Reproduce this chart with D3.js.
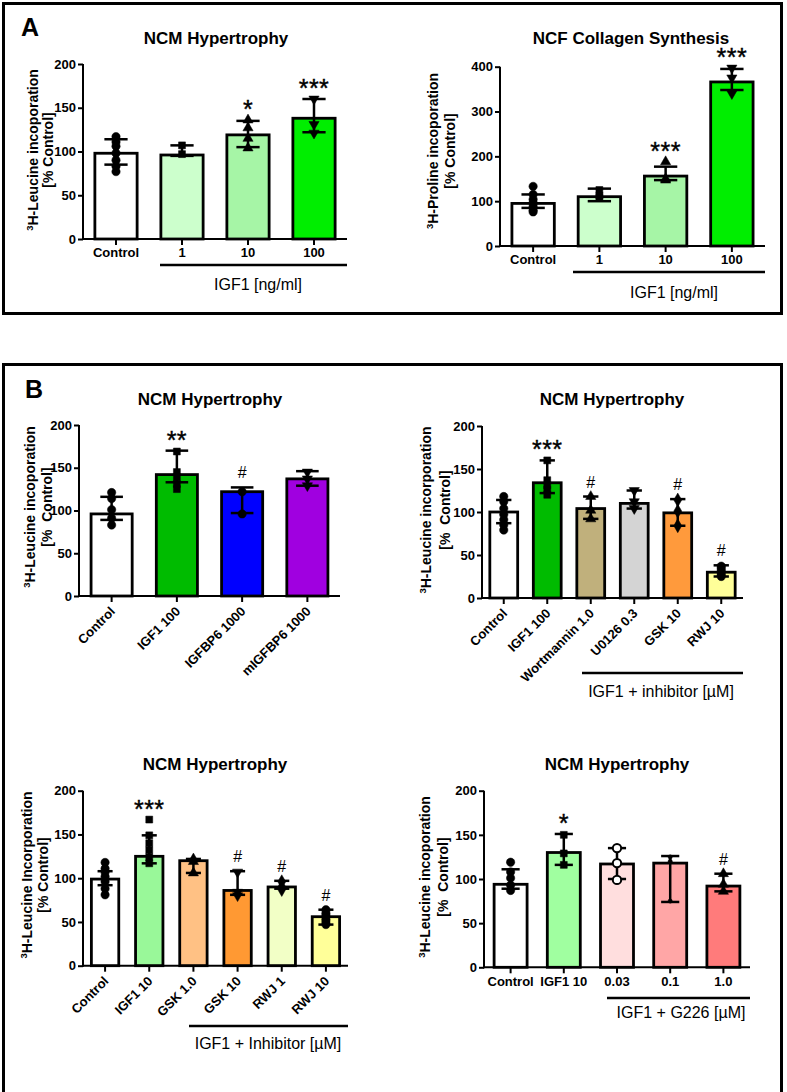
<!DOCTYPE html>
<html><head><meta charset="utf-8">
<script src="https://cdn.jsdelivr.net/npm/d3@7"></script>
<style>body{margin:0;background:#fff}svg{display:block;font-family:"Liberation Sans",Arial,sans-serif}</style>
</head><body>
<svg id="fig" width="787" height="1092"></svg>
<script>
// ---------- DATA ----------
// Panel A left: NCM Hypertrophy
const a1Categories = ["Control","1","10","100"];
const a1Means   = [98, 96, 119, 138];
const a1ErrHigh = [114, 107, 135, 160];
const a1ErrLow  = [85, 95, 105, 122];
const a1Points  = [[117,111,106,98,90,83,77],[107,97],[136,127,115,104],[160,131,121]];
const a1Sig     = ["","","*","***"];
const a1Colors  = ["#ffffff","#ccffcc","#a6f5a6","#00ee00"];
const a1Shapes  = ["circle","square","triangle","invtri"];

// Panel A right: NCF Collagen Synthesis
const a2Categories = ["Control","1","10","100"];
const a2Means   = [95, 110, 156, 366];
const a2ErrHigh = [115, 128, 177, 395];
const a2ErrLow  = [85, 100, 147, 348];
const a2Points  = [[133,115,104,96,88,80,76],[125,112,108],[188,150,147],[397,375,340]];
const a2Sig     = ["","","***","***"];
const a2Colors  = ["#ffffff","#ccffcc","#a6f5a6","#00ee00"];
const a2Shapes  = ["circle","square","triangle","invtri"];

// Panel B1
const b1Categories = ["Control","IGF1 100","IGFBP6 1000","mIGFBP6 1000"];
const b1Means   = [96, 142, 122, 137];
const b1ErrHigh = [116, 170, 127, 146];
const b1ErrLow  = [89, 133, 97, 129];
const b1Points  = [[121,114,101,91,83],[169,145,139,131,125],[122,96],[145,137,129]];
const b1Sig     = ["","**","#",""];
const b1Colors  = ["#ffffff","#00bb00","#0000ff","#a000e0"];
const b1Shapes  = ["circle","square","circle","invtri"];

// Panel B2
const b2Categories = ["Control","IGF1 100","Wortmannin 1.0","U0126 0.3","GSK 10","RWJ 10"];
const b2Means   = [100, 134, 104, 110, 99, 30];
const b2ErrHigh = [114, 160, 118, 125, 115, 38];
const b2ErrLow  = [87, 122, 92, 104, 84, 25];
const b2Points  = [[118,112,104,97,91,85,79],[160,137,131,126,120],[118,102,92],[125,112,104],[114,101,84],[37,34,31,28,25]];
const b2Sig     = ["","***","#","","#","#"];
const b2Colors  = ["#ffffff","#00bb00","#c0b07c","#d4d4d4","#ff9a3c","#ffff99"];
const b2Shapes  = ["circle","square","triangle","invtri","diamond","circle"];

// Panel B3
const b3Categories = ["Control","IGF1 10","GSK 1.0","GSK 10","RWJ 1","RWJ 10"];
const b3Means   = [99, 125, 120, 86, 90, 56];
const b3ErrHigh = [108, 149, 122, 108, 97, 64];
const b3ErrLow  = [92, 117, 106, 81, 88, 47];
const b3Points  = [[118,111,107,102,96,88,81],[167,149,140,132,124,117],[122,119,106],[107,84,80],[96,90,87],[64,60,57,53,50,47]];
const b3Sig     = ["","***","","#","#","#"];
const b3Colors  = ["#ffffff","#99f899","#ffc184","#ff9933","#f2ffc6","#ffff99"];
const b3Shapes  = ["circle","square","triangle","invtri","diamond","circle"];

// Panel B4
const b4Categories = ["Control","IGF1 10","0.03","0.1","1.0"];
const b4Means   = [94, 130, 117, 118, 92];
const b4ErrHigh = [111, 151, 135, 126, 106];
const b4ErrLow  = [89, 116, 100, 74, 86];
const b4Points  = [[119,108,101,93,87],[150,129,116],[135,118,99],[125,120,75],[106,94,86]];
const b4Sig     = ["","*","","","#"];
const b4Colors  = ["#ffffff","#a0ffa0","#ffdede","#ffa6a6","#ff7b7b"];
const b4Shapes  = ["circle","square","open","small","triangle"];

const ticks200 = [0,50,100,150,200];
const ticks400 = [0,100,200,300,400];

// ---------- DRAW ----------
const svg = d3.select("#fig");
const FONT = '"Liberation Sans",Arial,sans-serif';

// frames
svg.append("rect").attr("x",3.5).attr("y",3.5).attr("width",778).attr("height",310)
  .attr("fill","none").attr("stroke","#000").attr("stroke-width",3);
svg.append("rect").attr("x",3.5).attr("y",364.5).attr("width",778).attr("height",800)
  .attr("fill","none").attr("stroke","#000").attr("stroke-width",3);
svg.append("text").attr("x",21).attr("y",36).attr("font-size",25).attr("font-weight","bold").text("A");
svg.append("text").attr("x",25).attr("y",398).attr("font-size",25).attr("font-weight","bold").text("B");

function symbolPath(shape){
  const map = {circle:d3.symbolCircle, square:d3.symbolSquare, triangle:d3.symbolTriangle,
               invtri:d3.symbolTriangle, diamond:d3.symbolDiamond, open:d3.symbolCircle, small:d3.symbolCircle};
  const size = shape==="small" ? 14 : (shape==="square" ? 48 : (shape==="triangle"||shape==="invtri" ? 45 : 55));
  return d3.symbol().type(map[shape]).size(size)();
}

function panel(c){
  const g = svg.append("g");
  const x = d3.scaleBand().domain(c.categories).range([c.x0, c.x1]).paddingInner(c.pad).paddingOuter(c.pad/2);
  const y = d3.scaleLinear().domain([0, c.yMax]).range([c.yBot, c.yTop]);
  const data = c.categories.map((k,i)=>({k, mean:c.means[i], hi:c.errHigh[i], lo:c.errLow[i],
      pts:c.points[i], color:c.colors[i], shape:c.shapes[i], sig:c.sig[i]}));
  const bw = x.bandwidth(), cx = d => x(d.k) + bw/2;

  g.selectAll("rect.bar").data(data).join("rect").attr("class","bar")
    .attr("x", d=>x(d.k)).attr("y", d=>y(d.mean)).attr("width", bw).attr("height", d=>y(0)-y(d.mean))
    .attr("fill", d=>d.color).attr("stroke","#000").attr("stroke-width",2.8);

  const cap = bw*0.55;
  const eb = g.selectAll("g.eb").data(data).join("g").attr("class","eb")
    .attr("stroke","#000").attr("stroke-width",2.5);
  eb.append("line").attr("x1",cx).attr("x2",cx).attr("y1",d=>y(d.lo)).attr("y2",d=>y(d.hi));
  eb.append("line").attr("x1",d=>cx(d)-cap/2).attr("x2",d=>cx(d)+cap/2).attr("y1",d=>y(d.hi)).attr("y2",d=>y(d.hi));
  eb.append("line").attr("x1",d=>cx(d)-cap/2).attr("x2",d=>cx(d)+cap/2).attr("y1",d=>y(d.lo)).attr("y2",d=>y(d.lo));

  const pts = data.flatMap(d=>d.pts.map(v=>({d, v})));
  g.selectAll("path.pt").data(pts).join("path").attr("class","pt")
    .attr("d", p=>symbolPath(p.d.shape))
    .attr("transform", p=>`translate(${cx(p.d)},${y(p.v)})${p.d.shape==="invtri"?" rotate(180)":""}`)
    .attr("fill", p=>p.d.shape==="open" ? "#fff" : "#000")
    .attr("stroke","#000").attr("stroke-width", p=>p.d.shape==="open"?2:0.5);

  // significance marks
  g.selectAll("text.sig").data(data.filter(d=>d.sig)).join("text").attr("class","sig")
    .attr("x", cx).attr("text-anchor","middle")
    .attr("y", d=>{ const top = y(Math.max(d.hi, d3.max(d.pts))); return d.sig==="#" ? top-9 : top-2; })
    .attr("font-size", d=>d.sig==="#"?16:25)
    .attr("letter-spacing", d=>d.sig==="#"?0:0.5)
    .attr("stroke","#000").attr("stroke-width", d=>d.sig==="#"?0:0.4)
    .text(d=>d.sig);

  // axes
  const ya = g.append("g").attr("transform",`translate(${c.x0},0)`)
    .call(d3.axisLeft(y).tickValues(c.yTicks).tickSize(5).tickPadding(2).tickSizeOuter(0));
  const xa = g.append("g").attr("transform",`translate(0,${c.yBot})`)
    .call(d3.axisBottom(x).tickSize(6).tickPadding(3).tickSizeOuter(0));
  [ya, xa].forEach(a=>{
    a.selectAll("path,line").attr("stroke","#000").attr("stroke-width",2);
    a.selectAll("text").attr("font-family",FONT).attr("font-size",13).attr("font-weight","bold").attr("fill","#000");
  });
  ya.select(".domain").attr("d", `M0,${c.yBot+1}V${c.yTop}`);
  xa.select(".domain").attr("d", `M${c.x0-1},0H${c.x1}`);
  if(c.rotate){
    xa.selectAll(".tick text").attr("text-anchor","end").attr("y",0).attr("dy","0.35em")
      .attr("transform","translate(1,13) rotate(-45)");
  }

  // title
  g.append("text").attr("x",c.titleX).attr("y",c.titleY).attr("text-anchor","middle")
    .attr("font-size",17).attr("font-weight","bold").text(c.title);

  // y label (two lines)
  const fs = 14;
  const l1 = g.append("text").attr("transform",`translate(${c.yl1x+fs*0.35},${c.ylc}) rotate(-90)`)
    .attr("text-anchor","middle").attr("font-size",fs).attr("font-weight","bold");
  l1.append("tspan").attr("font-size",9.5).attr("dy",-5).text("3");
  l1.append("tspan").attr("dy",5).text(c.ylab1);
  g.append("text").attr("transform",`translate(${c.yl2x+fs*0.35},${c.ylc}) rotate(-90)`)
    .attr("text-anchor","middle").attr("font-size",fs).attr("font-weight","bold")
    .attr("xml:space","preserve").style("white-space","pre").text(c.ylab2);

  // group line + label
  if(c.group){
    g.append("line").attr("x1",c.group.x0).attr("x2",c.x1).attr("y1",c.group.lineY).attr("y2",c.group.lineY)
      .attr("stroke","#000").attr("stroke-width",2.5);
    g.append("text").attr("x",c.group.labelX).attr("y",c.group.labelY).attr("text-anchor","middle")
      .attr("font-size",16).text(c.group.label);
  }
}

panel({categories:a1Categories, means:a1Means, errHigh:a1ErrHigh, errLow:a1ErrLow, points:a1Points,
  sig:a1Sig, colors:a1Colors, shapes:a1Shapes, yMax:200, yTicks:ticks200,
  x0:83, x1:347, yTop:64, yBot:239, pad:0.36,
  title:"NCM Hypertrophy", titleX:216, titleY:44,
  ylab1:"H-Leucine incoporation", ylab2:"[% Control]", yl1x:33, yl2x:48, ylc:150,
  group:{x0:160, lineY:265, label:"IGF1 [ng/ml]", labelX:258, labelY:290}});

panel({categories:a2Categories, means:a2Means, errHigh:a2ErrHigh, errLow:a2ErrLow, points:a2Points,
  sig:a2Sig, colors:a2Colors, shapes:a2Shapes, yMax:400, yTicks:ticks400,
  x0:500, x1:765, yTop:66.7, yBot:246, pad:0.36,
  title:"NCF Collagen Synthesis", titleX:631, titleY:44,
  ylab1:"H-Proline incoporation", ylab2:"[% Control]", yl1x:433, yl2x:450, ylc:151,
  group:{x0:573, lineY:272, label:"IGF1 [ng/ml]", labelX:674, labelY:298}});

panel({categories:b1Categories, means:b1Means, errHigh:b1ErrHigh, errLow:b1ErrLow, points:b1Points,
  sig:b1Sig, colors:b1Colors, shapes:b1Shapes, yMax:200, yTicks:ticks200,
  x0:79, x1:340, yTop:425, yBot:596, pad:0.37, rotate:true,
  title:"NCM Hypertrophy", titleX:210, titleY:405,
  ylab1:"H-Leucine incoporation", ylab2:"[%  Control]", yl1x:30, yl2x:47, ylc:507});

panel({categories:b2Categories, means:b2Means, errHigh:b2ErrHigh, errLow:b2ErrLow, points:b2Points,
  sig:b2Sig, colors:b2Colors, shapes:b2Shapes, yMax:200, yTicks:ticks200,
  x0:482, x1:743, yTop:426, yBot:598, pad:0.36, rotate:true,
  title:"NCM Hypertrophy", titleX:612, titleY:405,
  ylab1:"H-Leucine incorporation", ylab2:"[%  Control]", yl1x:426, yl2x:445, ylc:510,
  group:{x0:582, lineY:673, label:"IGF1 + inhibitor [\u00b5M]", labelX:661, labelY:697}});

panel({categories:b3Categories, means:b3Means, errHigh:b3ErrHigh, errLow:b3ErrLow, points:b3Points,
  sig:b3Sig, colors:b3Colors, shapes:b3Shapes, yMax:200, yTicks:ticks200,
  x0:83, x1:348, yTop:790.7, yBot:965.7, pad:0.38, rotate:true,
  title:"NCM Hypertrophy", titleX:215, titleY:770,
  ylab1:"H-Leucine Incorporation", ylab2:"[% Control]", yl1x:27, yl2x:43, ylc:875,
  group:{x0:189, lineY:1026, label:"IGF1 + Inhibitor [\u00b5M]", labelX:268, labelY:1049}});

panel({categories:b4Categories, means:b4Means, errHigh:b4ErrHigh, errLow:b4ErrLow, points:b4Points,
  sig:b4Sig, colors:b4Colors, shapes:b4Shapes, yMax:200, yTicks:ticks200,
  x0:484, x1:750, yTop:790.7, yBot:967.3, pad:0.38,
  title:"NCM Hypertrophy", titleX:617, titleY:770,
  ylab1:"H-Leucine incoporation", ylab2:"[%  Control]", yl1x:425, yl2x:443, ylc:877,
  group:{x0:607, lineY:998, label:"IGF1 + G226 [\u00b5M]", labelX:681, labelY:1018}});
</script>
</body></html>
